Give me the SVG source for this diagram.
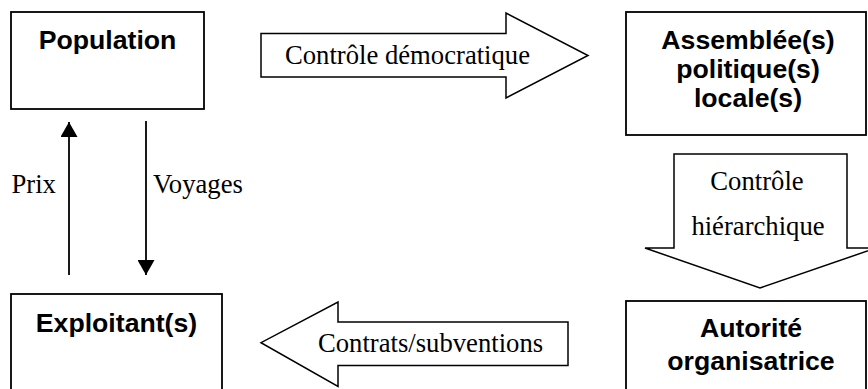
<svg xmlns="http://www.w3.org/2000/svg" width="868" height="389" viewBox="0 0 868 389">
<defs>
<style>
.box{fill:#fff;stroke:#000;stroke-width:1.8}
.big{fill:#fff;stroke:#000;stroke-width:1.5;stroke-linejoin:miter}
.lbl{font-family:"Liberation Sans",Arial,sans-serif;font-weight:bold;font-size:26.67px;fill:#000;text-anchor:middle}
.tx{font-family:"Liberation Serif","Times New Roman",serif;font-size:26.67px;fill:#000}
.ln{stroke:#000;stroke-width:1.8;fill:none}
</style>
<marker id="ah" viewBox="0 0 10 10" refX="10" refY="5" markerWidth="15" markerHeight="17" markerUnits="userSpaceOnUse" orient="auto" preserveAspectRatio="none">
<path d="M0,0 L10,5 L0,10 Z" fill="#000"/>
</marker>
</defs>
<rect width="868" height="389" fill="#fff"/>
<g id="population">
<rect class="box" x="11" y="12" width="193" height="97"/>
<text class="lbl" x="107.5" y="49">Population</text>
</g>
<g id="assemblees">
<rect class="box" x="626" y="12" width="240" height="123"/>
<text class="lbl" x="748" y="49">Assemblée(s)</text>
<text class="lbl" x="748" y="78">politique(s)</text>
<text class="lbl" x="748" y="107">locale(s)</text>
</g>
<g id="exploitants">
<rect class="box" x="11" y="294" width="211" height="110"/>
<text class="lbl" x="116.5" y="332">Exploitant(s)</text>
</g>
<g id="autorite">
<rect class="box" x="626" y="301" width="240" height="110"/>
<text class="lbl" x="751" y="337">Autorité</text>
<text class="lbl" x="751" y="370">organisatrice</text>
</g>
<g id="connectors">
<g id="controle-democratique">
<path class="big" d="M261,33.5 L506,33.5 L506,13 L588,55.5 L506,98 L506,77 L261,77 Z"/>
<text class="tx" x="285" y="63.5">Contrôle démocratique</text>
</g>
<g id="controle-hierarchique">
<path class="big" d="M674,154 L847,154 L847,248 L876,248 L760,288 L645,248 L674,248 Z"/>
<text class="tx" x="757" y="190" text-anchor="middle">Contrôle</text>
<text class="tx" x="758" y="235" text-anchor="middle">hiérarchique</text>
</g>
<g id="contrats">
<path class="big" d="M568,322 L338,322 L338,302 L261,342.7 L338,386.5 L338,365.5 L568,365.5 Z"/>
<text class="tx" x="318" y="352">Contrats/subventions</text>
</g>
<g id="prix">
<line class="ln" x1="69" y1="275" x2="69" y2="122" marker-end="url(#ah)"/>
<text class="tx" x="11.5" y="193">Prix</text>
</g>
<g id="voyages">
<line class="ln" x1="146" y1="121" x2="146" y2="275" marker-end="url(#ah)"/>
<text class="tx" x="153" y="193">Voyages</text>
</g>
</g>
</svg>
